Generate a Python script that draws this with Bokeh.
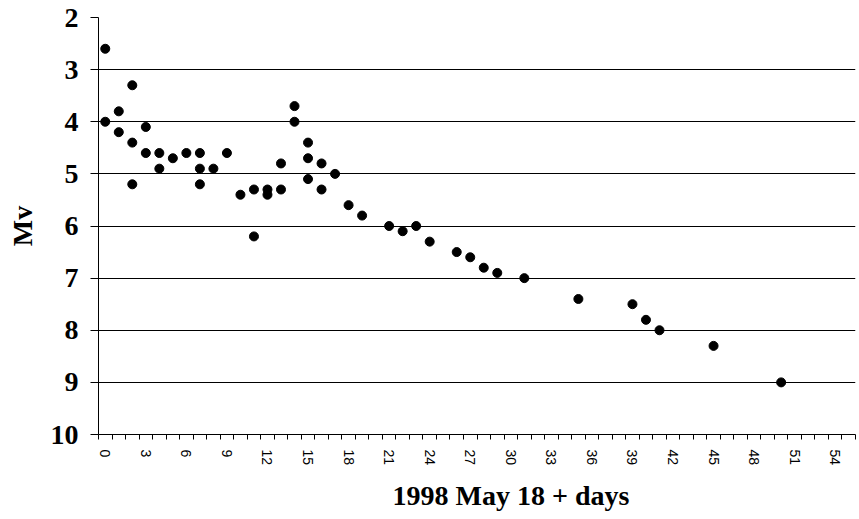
from bokeh.plotting import figure
from bokeh.models import Range1d, FixedTicker, Title
from bokeh.embed import file_html
from bokeh.resources import INLINE

# Data
days = [0, 0, 1, 1, 2, 2, 2, 3, 3, 4, 4, 5, 6, 7, 7, 7, 8, 9, 10, 11, 11, 12, 12,
        13, 13, 14, 14, 15, 15, 15, 16, 16, 17, 18, 19, 21, 22, 23, 24, 26, 27,
        28, 29, 31, 35, 39, 40, 41, 45, 50]
mv = [2.6, 4.0, 3.8, 4.2, 3.3, 4.4, 5.2, 4.1, 4.6, 4.6, 4.9, 4.7, 4.6, 4.6, 4.9,
      5.2, 4.9, 4.6, 5.4, 5.3, 6.2, 5.3, 5.4, 4.8, 5.3, 3.7, 4.0, 4.4, 4.7, 5.1,
      4.8, 5.3, 5.0, 5.6, 5.8, 6.0, 6.1, 6.0, 6.3, 6.5, 6.6, 6.8, 6.9, 7.0, 7.4,
      7.5, 7.8, 8.0, 8.3, 9.0]

x_labels = list(range(0, 55, 3))
x_minor = [i - 0.5 for i in range(0, 57)]
y_ticks = list(range(2, 11))

p = figure(width=859, height=519,
           x_range=Range1d(-0.5, 55.5), y_range=Range1d(10, 2),
           output_backend="svg", toolbar_location=None,
           min_border_left=98, min_border_right=4,
           min_border_top=17, min_border_bottom=82)

p.background_fill_color = "white"
p.border_fill_color = "white"
p.outline_line_color = None

p.scatter(days, mv, size=9, color="black")

# x axis
xa = p.xaxis[0]
xa.ticker = FixedTicker(ticks=x_labels, minor_ticks=x_minor)
xa.major_tick_line_color = None
xa.major_tick_out = 5
xa.major_tick_in = 0
xa.minor_tick_out = 5
xa.minor_tick_in = 0
xa.minor_tick_line_color = "black"
xa.axis_line_color = "black"
xa.major_label_orientation = "vertical"
xa.major_label_standoff = 10
xa.major_label_text_font = "Liberation Sans"
xa.major_label_text_font_size = "14px"
xa.major_label_text_color = "black"

# y axis
ya = p.yaxis[0]
ya.ticker = FixedTicker(ticks=y_ticks)
ya.major_tick_out = 8
ya.major_tick_in = 0
ya.minor_tick_line_color = None
ya.major_tick_line_color = "black"
ya.axis_line_color = "black"
ya.major_label_standoff = 12
ya.major_label_text_font = "Liberation Serif"
ya.major_label_text_font_style = "bold"
ya.major_label_text_font_size = "28px"
ya.major_label_text_color = "black"
ya.axis_label = "Mv"
ya.axis_label_text_font = "Liberation Serif"
ya.axis_label_text_font_style = "bold"
ya.axis_label_text_font_size = "28px"
ya.axis_label_text_color = "black"
ya.axis_label_standoff = 10

# grid
p.xgrid.grid_line_color = None
p.ygrid.ticker = FixedTicker(ticks=y_ticks)
p.ygrid.grid_line_color = "black"
p.ygrid.grid_line_width = 1

t = Title(text="1998 May 18 + days", align="left", offset=294, standoff=18,
          text_font="Liberation Serif", text_font_style="bold",
          text_font_size="28px", text_color="black")
p.add_layout(t, "below")

open("out.html", "w").write(file_html(p, INLINE))
